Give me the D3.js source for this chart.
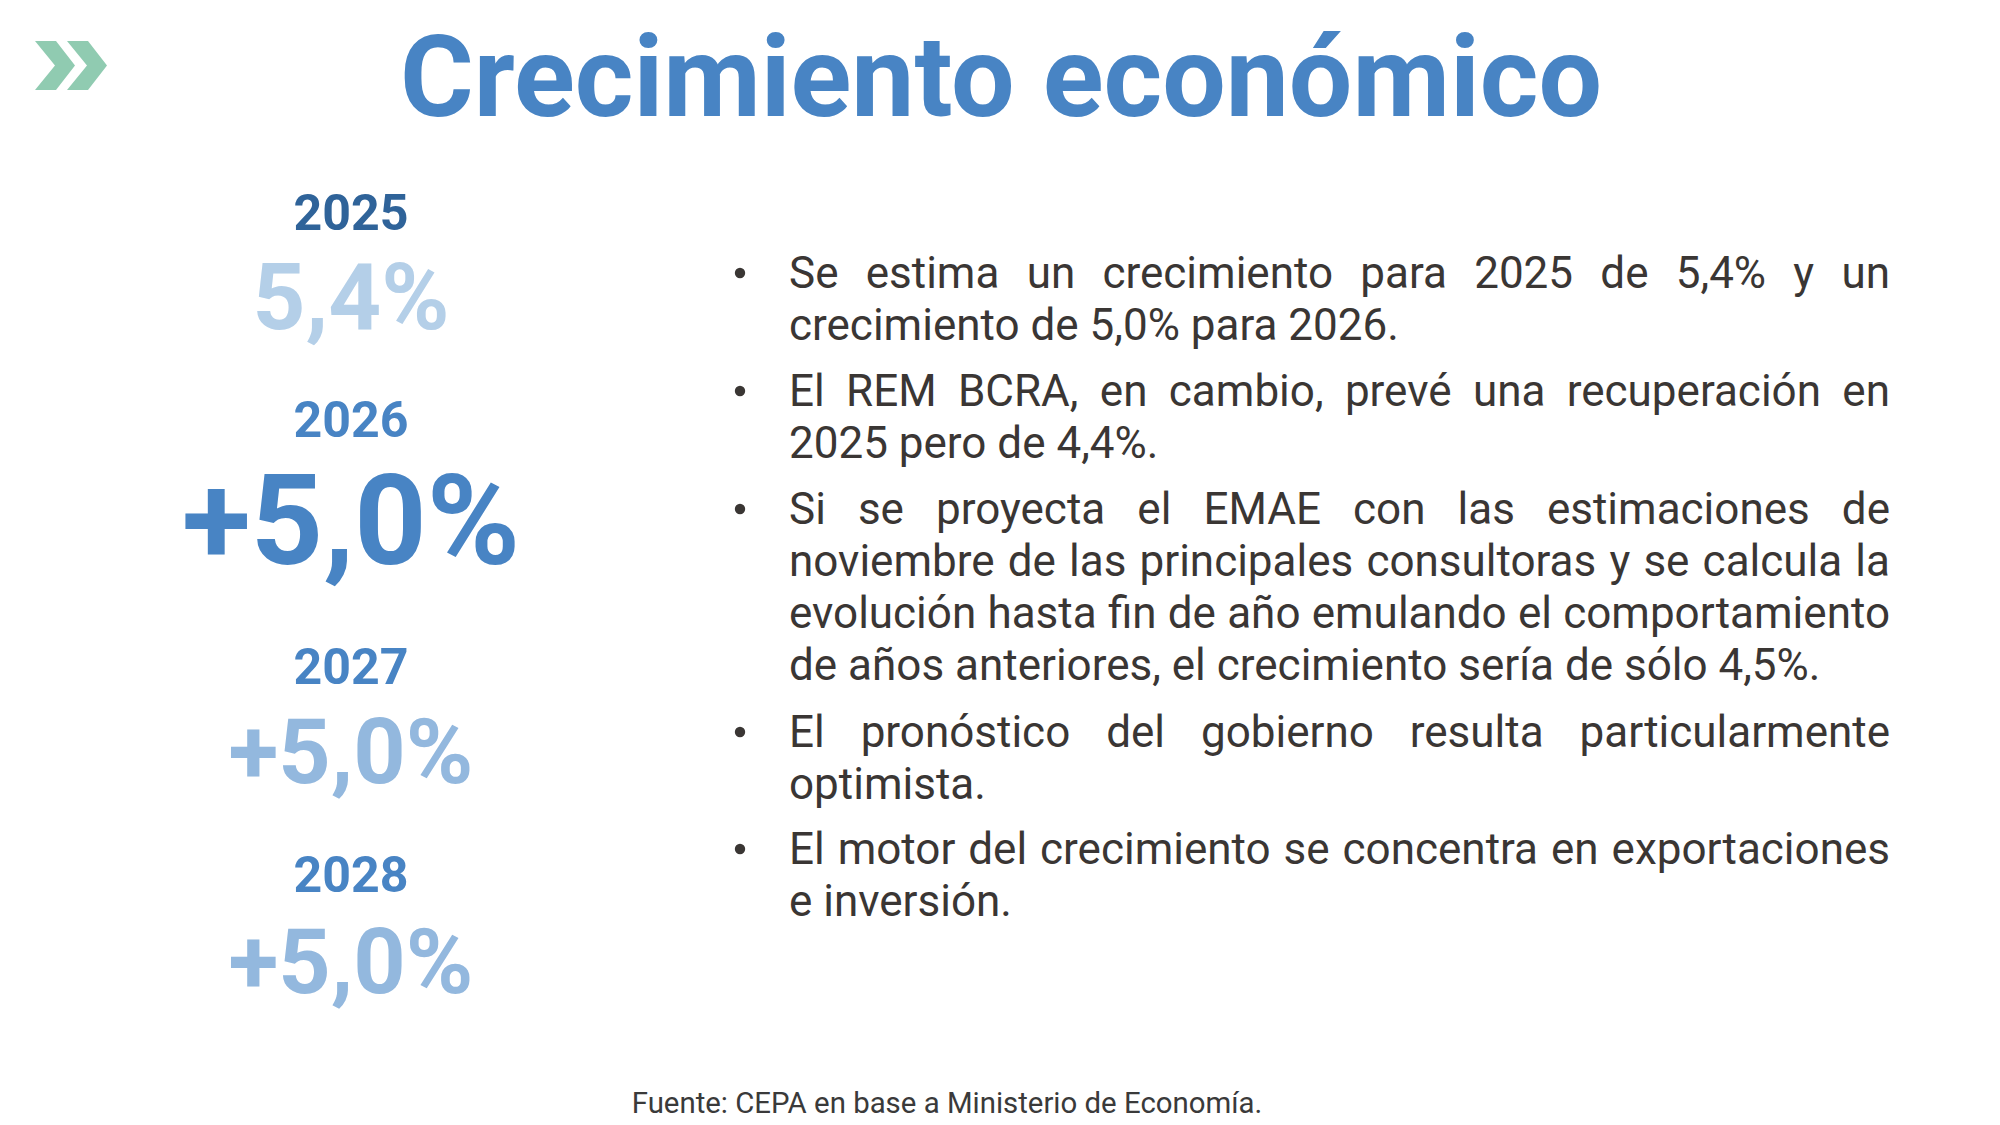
<!DOCTYPE html>
<html>
<head>
<meta charset="utf-8">
<script src="https://cdn.jsdelivr.net/npm/d3@7"></script>
<style>
  html, body { margin: 0; padding: 0; background: #ffffff; }
  svg { display: block; }
  text { font-family: Roboto, "Noto Sans", sans-serif; }
</style>
</head>
<body>
<script>
// ---------- data ----------
const title = "Crecimiento económico";
const years = ["2025", "2026", "2027", "2028"];
const growth = [5.4, 5.0, 5.0, 5.0];
const growthLabels = ["5,4%", "+5,0%", "+5,0%", "+5,0%"];
const bulletLines = [
  ["Se estima un crecimiento para 2025 de 5,4% y un", "crecimiento de 5,0% para 2026."],
  ["El REM BCRA, en cambio, prevé una recuperación en", "2025 pero de 4,4%."],
  ["Si se proyecta el EMAE con las estimaciones de",
   "noviembre de las principales consultoras y se calcula la",
   "evolución hasta fin de año emulando el comportamiento",
   "de años anteriores, el crecimiento sería de sólo 4,5%."],
  ["El pronóstico del gobierno resulta particularmente", "optimista."],
  ["El motor del crecimiento se concentra en exportaciones", "e inversión."]
];
const source = "Fuente: CEPA en base a Ministerio de Economía.";

// ---------- layout ----------
const W = 2000, H = 1125;
const svg = d3.select("body").append("svg").attr("width", W).attr("height", H);

// helper: scale font so text reaches target width
function fit(sel, target) {
  const fs = parseFloat(sel.attr("font-size"));
  const w = sel.node().getComputedTextLength();
  sel.attr("font-size", fs * target / w);
}

// logo chevrons
const chevron = [[0,0],[21,0],[40,24.5],[21,49],[0,49],[20,24.5]];
[35, 67].forEach(x0 => {
  svg.append("polygon")
    .attr("points", chevron.map(p => [p[0] + x0, p[1] + 41].join(",")).join(" "))
    .attr("fill", "#90cbb1");
});

// title
const t = svg.append("text")
  .attr("x", 1001).attr("y", 116)
  .attr("text-anchor", "middle")
  .attr("font-size", 112).attr("font-weight", 700)
  .attr("fill", "#4884c4")
  .text(title);
fit(t, 1202);

// left column
const colX = 351;
const yearBase = [230, 437, 684, 892];
const valBase = [329, 564, 783, 993];
const valWidth = [197, 338, 245, 245];
const yearColor = ["#2f6399", "#4884c4", "#4884c4", "#4884c4"];
const valColor = ["#b4cfe8", "#4884c4", "#93b8de", "#93b8de"];
const rows = years.map((y, i) => ({ year: y, v: growth[i], label: growthLabels[i], i }));

const g = svg.append("g");
g.selectAll("text.year").data(rows).join("text")
  .attr("class", "year")
  .attr("x", colX).attr("y", d => yearBase[d.i])
  .attr("text-anchor", "middle")
  .attr("font-size", 52).attr("font-weight", 700)
  .attr("fill", d => yearColor[d.i])
  .text(d => d.year)
  .each(function () { fit(d3.select(this), 115); });

g.selectAll("text.val").data(rows).join("text")
  .attr("class", "val")
  .attr("x", colX).attr("y", d => valBase[d.i])
  .attr("text-anchor", "middle")
  .attr("font-size", 100).attr("font-weight", 700)
  .attr("fill", d => valColor[d.i])
  .text(d => d.label)
  .each(function (d) { fit(d3.select(this), valWidth[d.i]); });

// bullets
const left = 789, right = 1890, lineH = 52, paraStarts = [288, 406, 524, 747, 864];
const bodyFs = 44;
const bg = svg.append("g").attr("fill", "#3a3634").attr("font-size", bodyFs);

bulletLines.forEach((lines, p) => {
  bg.append("circle")
    .attr("cx", 740).attr("cy", paraStarts[p] - 15)
    .attr("r", 5.2);
  lines.forEach((line, k) => {
    const y = paraStarts[p] + k * lineH;
    const words = line.split(" ");
    const last = k === lines.length - 1;
    if (last) {
      bg.append("text").attr("x", left).attr("y", y).text(line);
    } else {
      const tmp = words.map(w => bg.append("text").attr("x", 0).attr("y", y).text(w));
      const widths = tmp.map(s => s.node().getComputedTextLength());
      const total = d3.sum(widths);
      const gap = (right - left - total) / (words.length - 1);
      let x = left;
      tmp.forEach((s, j) => { s.attr("x", x); x += widths[j] + gap; });
    }
  });
});

// source
const s = svg.append("text")
  .attr("x", 947).attr("y", 1113)
  .attr("text-anchor", "middle")
  .attr("font-size", 28)
  .attr("fill", "#3a3a3a")
  .text(source);
fit(s, 631);
</script>
</body>
</html>
